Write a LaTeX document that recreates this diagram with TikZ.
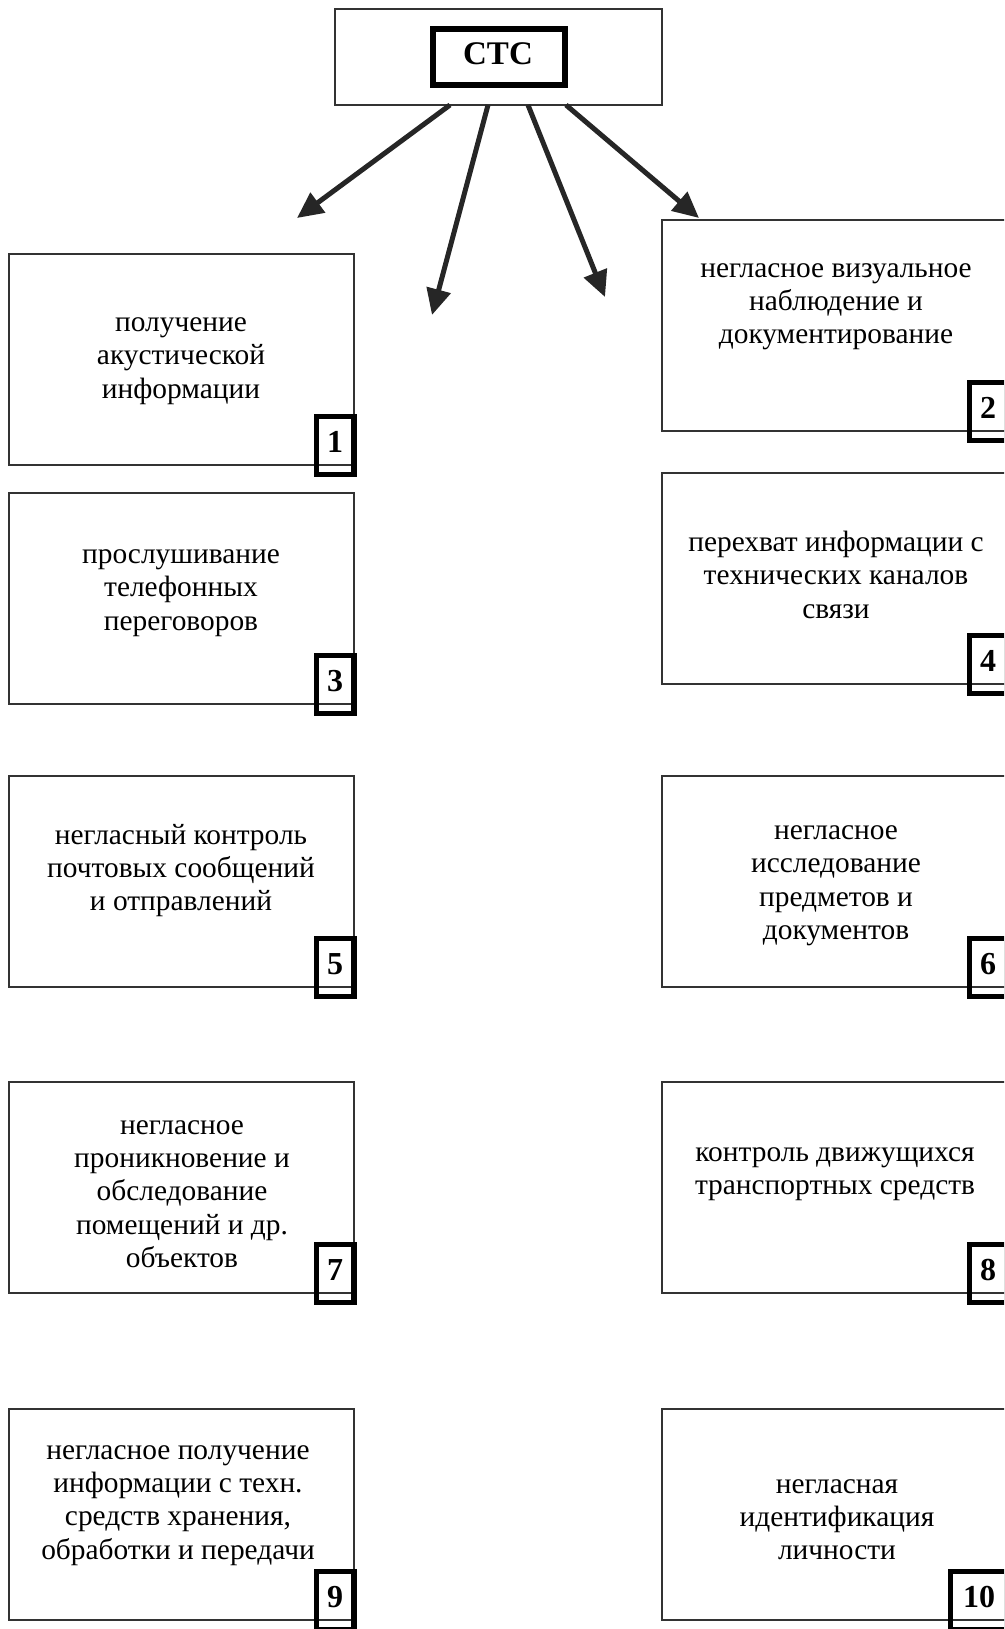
\documentclass[tikz,border=0pt]{standalone}
\usepackage{fontspec}
\setmainfont{Liberation Serif}
\usetikzlibrary{arrows.meta,calc}
\definecolor{linegrey}{HTML}{333333}
\definecolor{arrowgrey}{HTML}{262626}

\begin{document}
\begin{tikzpicture}[x=1pt,y=-1pt,
  frame/.style={draw=linegrey,line width=1.5pt,outer sep=0pt,inner sep=0pt,
    minimum width=345pt,minimum height=211pt,anchor=north west},
  numbox/.style={draw=black,line width=5.3pt,outer sep=0pt,inner sep=0pt,
    minimum width=37.8pt,minimum height=57.8pt,anchor=south east},
  body/.style={anchor=north,align=center,inner sep=0pt,
    font=\fontsize{29.4}{33.4}\selectfont},
  numtxt/.style={inner sep=0pt,font=\fontsize{32}{36}\selectfont\bfseries},
  ray/.style={draw=arrowgrey,line width=5pt,-{Triangle[length=26pt,width=24pt]}}]

\useasboundingbox (0,0) rectangle (1004,1629);
\clip (0,0) rectangle (1004,1629);

% header
\node[draw=linegrey,line width=1.5pt,outer sep=0pt,inner sep=0pt,
  minimum width=327pt,minimum height=96pt,anchor=north west] (top) at (335,9) {};
\node[draw=black,line width=6pt,outer sep=0pt,inner sep=0pt,
  minimum width=132.3pt,minimum height=56.3pt] (stcframe) at (499.2,57.2) {};
\node[inner sep=0pt,font=\fontsize{33}{38}\selectfont\bfseries] (stc) at (498,54) {СТС};

% arrow ends
\coordinate (e1) at (297,218);
\coordinate (e2) at (432,315);
\coordinate (e3) at (605,297);
\coordinate (e4) at (699,218);
\draw[ray] ([xshift=115pt]top.south west) -- (e1);
\draw[ray] ([xshift=153pt]top.south west) -- (e2);
\draw[ray] ([xshift=193pt]top.south west) -- (e3);
\draw[ray] ([xshift=231pt]top.south west) -- (e4);

% left column
\node[frame] (b1) at (9,254) {};
\node[frame] (b3) at (9,493) {};
\node[frame] (b5) at (9,776) {};
\node[frame] (b7) at (9,1082) {};
\node[frame] (b9) at (9,1409) {};
% right column
\node[frame] (b2) at (662,220) {};
\node[frame] (b4) at (662,473) {};
\node[frame] (b6) at (662,776) {};
\node[frame] (b8) at (662,1082) {};
\node[frame] (b10) at (662,1409) {};

% texts
\node[body] (t1) at (181,308) {\strut получение\\акустической\\информации};
\node[body] (t3) at (181,540) {\strut прослушивание\\телефонных\\переговоров};
\node[body] (t5) at (181,820.5) {\strut негласный контроль\\почтовых сообщений\\и отправлений};
\node[body] (t7) at (182,1110.5) {\strut негласное\\проникновение и\\обследование\\помещений и др.\\объектов};
\node[body] (t9) at (178,1435.5) {\strut негласное получение\\информации с техн.\\средств хранения,\\обработки и передачи};
\node[body] (t2) at (836,253.5) {\strut негласное визуальное\\наблюдение и\\документирование};
\node[body] (t4) at (836,528) {\strut перехват информации с\\технических каналов\\связи};
\node[body] (t6) at (836,816) {\strut негласное\\исследование\\предметов и\\документов};
\node[body] (t8) at (835,1138) {\strut контроль движущихся\\транспортных средств};
\node[body] (t10) at (837,1469.5) {\strut негласная\\идентификация\\личности};

% number tags
\foreach \b in {1,3,5,7,9,2,4,6,8}{
  \node[numbox] (n\b) at ($(b\b.south east)+(0,9.5)$) {};
  \node[numtxt] (d\b) at ($(b\b.south east)+(-19,-23)$) {\b};
}
\node[numbox,minimum width=56.5pt] (n10) at ($(b10.south east)+(0,9.5)$) {};
\node[numtxt] (d10) at ($(b10.south east)+(-28,-23)$) {10};
\end{tikzpicture}
\end{document}
